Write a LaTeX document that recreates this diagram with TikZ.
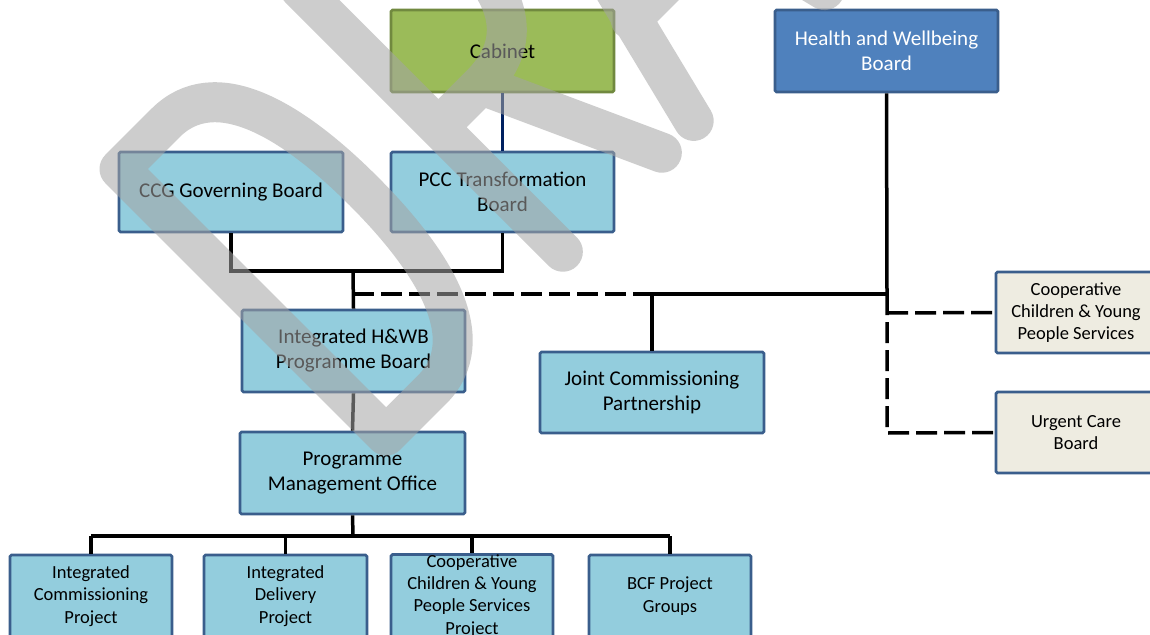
\documentclass[tikz,border=0pt]{standalone}
\usepackage{fontspec}
\setmainfont{Carlito}
\definecolor{lblue}{RGB}{147,205,221}
\definecolor{bord}{RGB}{58,94,140}
\definecolor{cabfill}{RGB}{155,187,89}
\definecolor{cabbord}{RGB}{113,137,63}
\definecolor{hwbfill}{RGB}{79,129,189}
\definecolor{beige}{RGB}{238,236,225}
\definecolor{navy}{RGB}{0,32,96}
\definecolor{wm}{RGB}{164,164,164}
\tikzset{
  box/.style={draw=bord, line width=2.8pt, rounded corners=1.5pt, fill=lblue,
    align=center, inner sep=0pt, text=black,
    font=\fontsize{21}{25}\selectfont},
  smallbox/.style={box, font=\fontsize{18.5}{22.3}\selectfont,
    minimum width=162pt, minimum height=82pt},
  conn/.style={line width=3.5pt, black},
  thickconn/.style={line width=4.5pt, black},
  dconn/.style={line width=3.5pt, black, dash pattern=on 21pt off 7pt},
  wmstroke/.style={draw=wm, draw opacity=0.55, line width=40pt,
    line cap=round, line join=round},
}
\begin{document}
\begin{tikzpicture}[x=1pt,y=-1pt]
\clip (0,0) rectangle (1150,634);
\useasboundingbox (0,0) rectangle (1150,634);
\fill[white] (0,0) rectangle (1150,634);

% junction points
\coordinate (j1) at (353,271);
\coordinate (j3) at (353,294);
\coordinate (j2) at (652,294);
\coordinate (j4) at (887,294);
\coordinate (j5) at (887,313);
\coordinate (j6) at (887,433);
\coordinate (bus) at (353,536);
\coordinate (busl) at (91,536);
\coordinate (busr) at (670,536);

% boxes
\node[box, fill=cabfill, draw=cabbord, minimum width=223pt, minimum height=82pt] (cab) at (502.5,51) {Cabinet};
\node[box, fill=hwbfill, text=white, minimum width=223pt, minimum height=82pt] (hwb) at (886.5,51) {Health and Wellbeing\\Board};
\node[box, minimum width=224pt, minimum height=80pt] (ccg) at (231,192) {CCG Governing Board};
\node[box, minimum width=223pt, minimum height=80pt] (pcc) at (502.5,192) {PCC Transformation\\Board};
\node[box, minimum width=223pt, minimum height=82pt] (ihwb) at (353.5,351) {Integrated H\&WB\\Programme Board};
\node[box, minimum width=225pt, minimum height=82pt] (pmo) at (352.5,473) {Programme\\Management Office};
\node[box, minimum width=224pt, minimum height=81pt] (jcp) at (652,392.5) {Joint Commissioning\\Partnership};
\node[smallbox, fill=beige, minimum width=160pt, minimum height=81pt] (coop) at (1076,312.5) {Cooperative\\Children \& Young\\People Services};
\node[smallbox, fill=beige, minimum width=160pt, minimum height=81pt] (ucb) at (1076,432.5) {Urgent Care\\Board};
\node[smallbox] (b1) at (91,596) {Integrated\\Commissioning\\Project};
\node[smallbox, minimum width=163pt] (b2) at (285.5,596) {Integrated\\Delivery\\Project};
\node[smallbox] (b3) at (472,596) {Cooperative\\Children \& Young\\People Services\\Project};
\node[smallbox] (b4) at (670,596) {BCF Project\\Groups};

% connectors
\draw[line width=3pt, navy] (cab.south) -- (pcc.north);
\draw[conn] (ccg.south) |- (j1) -| (pcc.south);
\draw[conn] (j1) -- (ihwb.north);
\draw[dconn] (j3) -- (j2);
\draw[thickconn] (j2) -- (j4);
\draw[conn] (hwb.south) -- (j4);
\draw[thickconn] (j2) -- (jcp.north);
\draw[dconn] (j4) -- (j6) -- (ucb.west);
\draw[dconn] (j5) -- (coop.west);
\draw[conn] (ihwb.south) -- (pmo.north);
\draw[conn] (pmo.south) -- (bus);
\draw[conn] (busl) -- (busr);
\draw[conn] (busl) -- (b1.north);
\draw[conn] (b2.north |- bus) -- (b2.north);
\draw[conn] (b3.north |- bus) -- (b3.north);
\draw[conn] (busr) -- (b4.north);

% watermark "DRAFT", letters as strokes along a 45 degree baseline
\begin{scope}[x={(0.7071pt,0.7071pt)}, y={(-0.7071pt,0.7071pt)}]
\draw[wmstroke]
  % D
  (-35,-581) -- (-35,-204) -- (30,-204)
    .. controls (100,-204) and (122,-290) .. (122,-392)
    .. controls (122,-494) and (100,-581) .. (30,-581) -- cycle
  % R
  (220,-576) -- (220,-204) -- (285,-204)
    .. controls (340,-204) and (362,-240) .. (362,-302)
    .. controls (362,-365) and (335,-400) .. (280,-400) -- (220,-400)
  (280,-400) -- (360,-576)
  % A
  (405,-576) -- (497,-204) -- (590,-576)
  (432,-460) -- (562,-460)
  % F
  (660,-576) -- (660,-204) -- (790,-204)
  (660,-390) -- (770,-390)
  % T
  (830,-204) -- (1010,-204)
  (920,-204) -- (920,-576);
\end{scope}
\end{tikzpicture}
\end{document}
